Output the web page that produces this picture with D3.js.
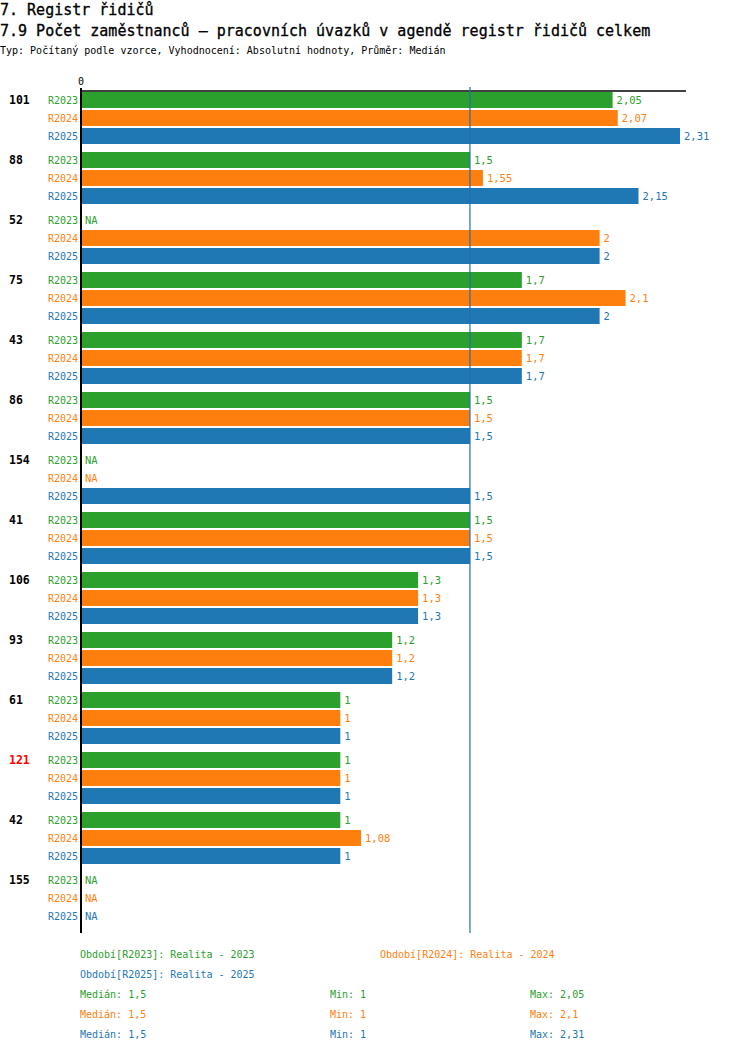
<!DOCTYPE html>
<html>
<head>
<meta charset="utf-8">
<script src="https://cdn.jsdelivr.net/npm/d3@7"></script>
<style>
  body { margin: 0; background: #fff; }
  text { font-family: "DejaVu Sans Mono", monospace; }
</style>
</head>
<body>
<div id="chart"></div>
<script>
// 7.9 Pocet zamestnancu - registr ridicu, bars per category and period

const categories = ["101", "88", "52", "75", "43", "86", "154", "41", "106", "93", "61", "121", "42", "155"];
const highlighted = ["121"];
const series = ["R2023", "R2024", "R2025"];
const colors = ["#2ca02c", "#ff7f0e", "#1f77b4"];

const r2023 = [2.05, 1.5, null, 1.7, 1.7, 1.5, null, 1.5, 1.3, 1.2, 1, 1, 1, null];
const r2024 = [2.07, 1.55, 2, 2.1, 1.7, 1.5, null, 1.5, 1.3, 1.2, 1, 1, 1.08, null];
const r2025 = [2.31, 2.15, 2, 2, 1.7, 1.5, 1.5, 1.5, 1.3, 1.2, 1, 1, 1, null];

const legendNames = ["Období[R2023]: Realita - 2023", "Období[R2024]: Realita - 2024", "Období[R2025]: Realita - 2025"];
const medians = [1.5, 1.5, 1.5];
const mins = [1, 1, 1];
const maxs = [2.05, 2.1, 2.31];

const values = [r2023, r2024, r2025];

const width = 750, height = 1052,
      margin = ({top: 91, left: 81, right: 70});
const groupH = 60, barStep = 18, barH = 16;

const fmt = v => String(v).replace(".", ",");

let svg = d3.select("#chart")
    .append("svg")
    .attr("width", width)
    .attr("height", height)
    .attr("viewBox", [0, 0, width, height]);

// titles
svg.append("text").attr("x", 0).attr("y", 15)
    .attr("font-size", 15)
    .attr("stroke", "#000").attr("stroke-width", 0.3)
    .text("7. Registr řidičů");
svg.append("text").attr("x", 0).attr("y", 36)
    .attr("font-size", 15)
    .attr("stroke", "#000").attr("stroke-width", 0.3)
    .text("7.9 Počet zaměstnanců – pracovních úvazků v agendě registr řidičů celkem");
svg.append("text").attr("x", 0).attr("y", 54)
    .attr("font-size", 10)
    .text("Typ: Počítaný podle vzorce, Vyhodnocení: Absolutní hodnoty, Průměr: Medián");

let x = d3.scaleLinear()
    .domain([0, d3.max(r2025)])
    .range([margin.left, 680]);

let y = d3.scaleBand()
    .domain(categories)
    .range([margin.top + 1, margin.top + 1 + categories.length * groupH]);

let yInner = d3.scaleBand()
    .domain(series)
    .range([0, series.length * barStep]);

const plotBottom = y.range()[1] + 1;

// flatten rows
let rows = [];
categories.forEach((c, i) => {
    series.forEach((s, j) => {
        rows.push({cat: c, ser: s, j: j, v: values[j][i]});
    });
});

let group = svg.selectAll(".group")
    .data(categories)
    .join("g")
    .attr("class", "group")
    .attr("transform", d => `translate(0,${y(d)})`);

group.append("text")
    .attr("x", 9)
    .attr("y", barH / 2)
    .attr("dy", "0.35em")
    .attr("font-size", 11.5)
    .attr("font-weight", "bold")
    .attr("fill", d => highlighted.includes(d) ? "#ff0000" : "#000")
    .text(d => d);

let bar = svg.selectAll(".bar")
    .data(rows)
    .join("g")
    .attr("class", "bar")
    .attr("transform", d => `translate(0,${y(d.cat) + yInner(d.ser)})`);

bar.append("text")
    .attr("x", 78)
    .attr("y", barH / 2)
    .attr("dy", "0.35em")
    .attr("text-anchor", "end")
    .attr("font-size", 10)
    .attr("fill", d => colors[d.j])
    .text(d => d.ser);

bar.filter(d => d.v != null).append("rect")
    .attr("fill", d => colors[d.j])
    .attr("x", x(0) + 1)
    .attr("y", 0)
    .attr("width", d => x(d.v) - x(0) - 1)
    .attr("height", barH);

bar.append("text")
    .attr("x", d => (d.v == null ? x(0) : x(d.v)) + 4)
    .attr("y", barH / 2)
    .attr("dy", "0.35em")
    .attr("font-size", 10.5)
    .attr("fill", d => colors[d.j])
    .text(d => d.v == null ? "NA" : fmt(d.v));

// axes lines
svg.append("line")
    .attr("x1", x(0) - 1).attr("x2", x.range()[1] + 6)
    .attr("y1", margin.top).attr("y2", margin.top)
    .attr("stroke", "#000").attr("stroke-width", 1.5);

svg.append("line")
    .attr("x1", x(0)).attr("x2", x(0))
    .attr("y1", margin.top - 3).attr("y2", plotBottom)
    .attr("stroke", "#000").attr("stroke-width", 2);

svg.append("text")
    .attr("x", x(0)).attr("y", 85)
    .attr("text-anchor", "middle")
    .attr("font-size", 10)
    .text("0");

// median line
svg.append("line")
    .attr("x1", x(medians[2])).attr("x2", x(medians[2]))
    .attr("y1", margin.top - 4).attr("y2", plotBottom)
    .attr("stroke", "#1f6fae").attr("stroke-width", 1.2);

// legend
const legendPos = [[80, 954], [380, 954], [80, 974]];
legendNames.forEach((t, i) => {
    svg.append("text")
        .attr("x", legendPos[i][0]).attr("y", legendPos[i][1])
        .attr("dy", "0.35em")
        .attr("font-size", 10)
        .attr("fill", colors[i])
        .text(t);
});

series.forEach((s, i) => {
    const yy = 994 + i * 20;
    const stats = [[80, "Medián: " + fmt(medians[i])], [330, "Min: " + fmt(mins[i])], [530, "Max: " + fmt(maxs[i])]];
    stats.forEach(st => {
        svg.append("text")
            .attr("x", st[0]).attr("y", yy)
            .attr("dy", "0.35em")
            .attr("font-size", 10)
            .attr("fill", colors[i])
            .text(st[1]);
    });
});
</script>
</body>
</html>
